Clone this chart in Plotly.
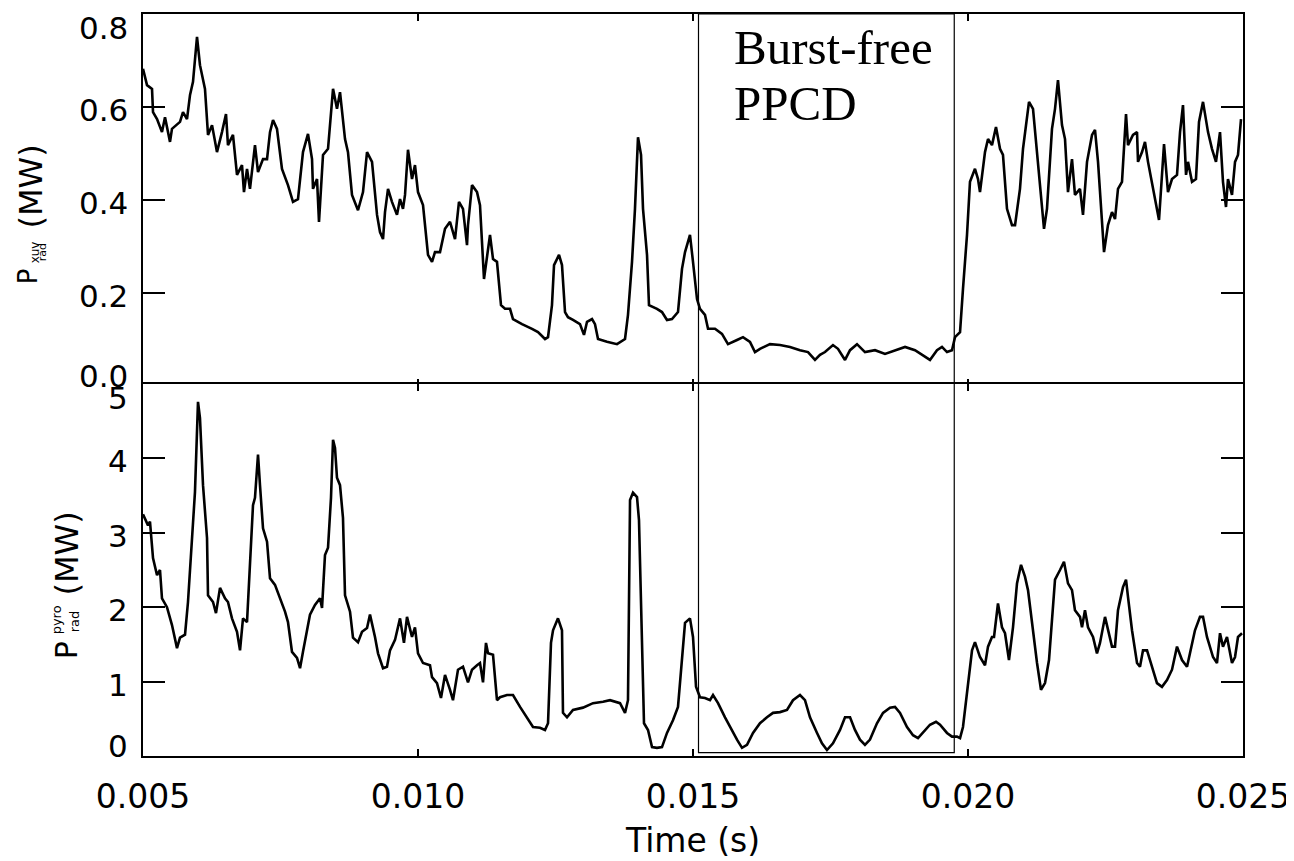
import numpy as np
import plotly.graph_objects as go

# --- Cadre (px) --------------------------------------------------------------
# La page HTML ajoute une marge de 8 px au body : on la retire du cadre.
OFF = 8
W, H = 1294 - OFF, 861 - OFF
L, R, T, B = 143 - OFF, 51, 12 - OFF, 105
PW, PH = W - L - R, H - T - B

# --- Données ------------------------------------------------------------------
# Panneau du haut : P_rad^xuv (MW), temps en ms
T_XUV_MS = [
    5.000, 5.073, 5.164, 5.182, 5.255, 5.345, 5.400, 5.491, 5.527, 5.673,
    5.727, 5.800, 5.855, 5.909, 5.982, 6.036, 6.127, 6.182, 6.255, 6.345,
    6.436, 6.509, 6.545, 6.636, 6.709, 6.800, 6.836, 6.891, 6.945, 7.036,
    7.091, 7.182, 7.255, 7.309, 7.364, 7.436, 7.527, 7.636, 7.727, 7.818,
    7.909, 8.000, 8.073, 8.091, 8.164, 8.200, 8.273, 8.364, 8.455, 8.527,
    8.582, 8.673, 8.727, 8.800, 8.909, 9.000, 9.073, 9.164, 9.255, 9.309,
    9.364, 9.400, 9.455, 9.527, 9.618, 9.673, 9.727, 9.764, 9.818, 9.891,
    9.945, 10.000, 10.091, 10.182, 10.255, 10.309, 10.400, 10.491, 10.582, 10.673,
    10.745, 10.818, 10.891, 10.909, 10.982, 11.073, 11.127, 11.182, 11.200, 11.309,
    11.364, 11.436, 11.509, 11.582, 11.673, 11.727, 11.891, 12.073, 12.182, 12.309,
    12.364, 12.436, 12.473, 12.564, 12.618, 12.673, 12.727, 12.818, 12.945, 13.018,
    13.073, 13.164, 13.218, 13.273, 13.436, 13.618, 13.764, 13.818, 13.891, 13.945,
    14.000, 14.055, 14.091, 14.164, 14.200, 14.345, 14.436, 14.527, 14.618, 14.727,
    14.800, 14.855, 14.945, 15.000, 15.073, 15.127, 15.218, 15.273, 15.400, 15.527,
    15.636, 15.800, 15.909, 16.036, 16.127, 16.218, 16.400, 16.582, 16.764, 16.945,
    17.091, 17.218, 17.309, 17.400, 17.545, 17.636, 17.764, 17.855, 17.982, 18.127,
    18.309, 18.491, 18.673, 18.855, 19.036, 19.164, 19.309, 19.436, 19.527, 19.618,
    19.709, 19.764, 19.855, 19.909, 19.982, 20.036, 20.127, 20.182, 20.218, 20.309,
    20.364, 20.436, 20.509, 20.582, 20.636, 20.709, 20.800, 20.855, 20.945, 21.000,
    21.109, 21.182, 21.255, 21.345, 21.382, 21.436, 21.527, 21.582, 21.636, 21.709,
    21.764, 21.818, 21.891, 21.945, 22.036, 22.091, 22.164, 22.255, 22.309, 22.364,
    22.436, 22.473, 22.545, 22.618, 22.673, 22.727, 22.800, 22.873, 22.909, 23.000,
    23.073, 23.091, 23.164, 23.218, 23.273, 23.364, 23.473, 23.564, 23.636, 23.709,
    23.800, 23.855, 23.909, 23.964, 24.000, 24.073, 24.145, 24.200, 24.273, 24.364,
    24.436, 24.509, 24.582, 24.636, 24.691, 24.727, 24.800, 24.855, 24.909, 24.964,
]
P_XUV = [
    0.682, 0.647, 0.639, 0.589, 0.574, 0.546, 0.578, 0.525, 0.553, 0.568,
    0.589, 0.574, 0.626, 0.654, 0.751, 0.690, 0.639, 0.540, 0.561, 0.503,
    0.546, 0.585, 0.518, 0.540, 0.454, 0.475, 0.417, 0.467, 0.424, 0.518,
    0.460, 0.488, 0.488, 0.546, 0.572, 0.553, 0.467, 0.432, 0.396, 0.402,
    0.503, 0.542, 0.488, 0.424, 0.445, 0.353, 0.497, 0.510, 0.639, 0.596,
    0.632, 0.531, 0.503, 0.411, 0.378, 0.417, 0.503, 0.482, 0.368, 0.331,
    0.316, 0.374, 0.424, 0.396, 0.368, 0.402, 0.381, 0.411, 0.508, 0.445,
    0.475, 0.417, 0.389, 0.282, 0.267, 0.288, 0.288, 0.338, 0.353, 0.316,
    0.396, 0.381, 0.303, 0.346, 0.432, 0.417, 0.389, 0.273, 0.230, 0.325,
    0.273, 0.267, 0.174, 0.166, 0.166, 0.144, 0.133, 0.123, 0.116, 0.101,
    0.105, 0.174, 0.260, 0.282, 0.260, 0.159, 0.148, 0.142, 0.133, 0.110,
    0.138, 0.144, 0.133, 0.101, 0.095, 0.090, 0.101, 0.153, 0.267, 0.381,
    0.535, 0.497, 0.381, 0.282, 0.174, 0.166, 0.159, 0.142, 0.144, 0.159,
    0.252, 0.288, 0.325, 0.267, 0.187, 0.166, 0.153, 0.123, 0.123, 0.112,
    0.090, 0.099, 0.105, 0.095, 0.073, 0.080, 0.090, 0.088, 0.084, 0.077,
    0.073, 0.056, 0.067, 0.073, 0.088, 0.080, 0.056, 0.077, 0.090, 0.073,
    0.077, 0.069, 0.077, 0.084, 0.077, 0.067, 0.056, 0.077, 0.084, 0.073,
    0.077, 0.105, 0.116, 0.209, 0.325, 0.439, 0.467, 0.445, 0.417, 0.503,
    0.531, 0.518, 0.557, 0.510, 0.497, 0.381, 0.346, 0.346, 0.424, 0.510,
    0.611, 0.596, 0.503, 0.374, 0.338, 0.381, 0.553, 0.596, 0.658, 0.561,
    0.531, 0.417, 0.488, 0.411, 0.424, 0.368, 0.482, 0.540, 0.551, 0.482,
    0.353, 0.288, 0.346, 0.374, 0.359, 0.424, 0.439, 0.585, 0.518, 0.540,
    0.546, 0.482, 0.503, 0.525, 0.482, 0.424, 0.357, 0.520, 0.417, 0.445,
    0.454, 0.546, 0.604, 0.454, 0.482, 0.439, 0.445, 0.568, 0.611, 0.546,
    0.510, 0.482, 0.546, 0.439, 0.385, 0.445, 0.411, 0.482, 0.497, 0.574,
]

# Panneau du bas : P_rad^pyro (MW), temps en ms
T_PYRO_MS = [
    5.000, 5.091, 5.127, 5.182, 5.255, 5.309, 5.345, 5.436, 5.527, 5.618,
    5.673, 5.764, 5.818, 5.891, 5.945, 6.000, 6.036, 6.091, 6.164, 6.182,
    6.273, 6.327, 6.400, 6.491, 6.545, 6.618, 6.709, 6.764, 6.818, 6.891,
    6.945, 7.000, 7.036, 7.091, 7.127, 7.182, 7.255, 7.309, 7.400, 7.491,
    7.582, 7.636, 7.709, 7.800, 7.855, 7.909, 7.982, 8.036, 8.127, 8.218,
    8.255, 8.309, 8.364, 8.418, 8.455, 8.491, 8.527, 8.582, 8.636, 8.673,
    8.764, 8.818, 8.909, 8.982, 9.073, 9.127, 9.218, 9.273, 9.364, 9.436,
    9.491, 9.582, 9.673, 9.745, 9.800, 9.891, 9.945, 10.000, 10.091, 10.218,
    10.255, 10.345, 10.418, 10.491, 10.582, 10.636, 10.727, 10.818, 10.909, 10.982,
    11.073, 11.127, 11.182, 11.236, 11.273, 11.364, 11.436, 11.491, 11.618, 11.727,
    11.855, 11.982, 12.091, 12.218, 12.309, 12.364, 12.418, 12.455, 12.545, 12.618,
    12.636, 12.709, 12.818, 13.000, 13.182, 13.364, 13.491, 13.673, 13.764, 13.818,
    13.855, 13.909, 13.982, 14.018, 14.073, 14.109, 14.182, 14.255, 14.345, 14.436,
    14.527, 14.636, 14.727, 14.800, 14.855, 14.945, 15.000, 15.055, 15.127, 15.218,
    15.309, 15.364, 15.455, 15.582, 15.673, 15.800, 15.891, 15.982, 16.091, 16.218,
    16.345, 16.455, 16.582, 16.709, 16.818, 16.945, 17.036, 17.127, 17.255, 17.345,
    17.436, 17.545, 17.673, 17.764, 17.855, 17.945, 18.036, 18.127, 18.218, 18.345,
    18.455, 18.582, 18.673, 18.764, 18.891, 19.000, 19.091, 19.182, 19.309, 19.418,
    19.491, 19.618, 19.709, 19.800, 19.855, 19.909, 19.982, 20.073, 20.127, 20.218,
    20.309, 20.364, 20.436, 20.473, 20.545, 20.618, 20.673, 20.745, 20.818, 20.891,
    20.964, 21.036, 21.091, 21.164, 21.255, 21.327, 21.400, 21.473, 21.527, 21.582,
    21.673, 21.745, 21.818, 21.891, 21.945, 22.036, 22.073, 22.127, 22.182, 22.273,
    22.345, 22.400, 22.491, 22.545, 22.618, 22.673, 22.727, 22.818, 22.873, 22.909,
    22.982, 23.073, 23.127, 23.182, 23.255, 23.309, 23.364, 23.436, 23.527, 23.618,
    23.709, 23.800, 23.891, 23.982, 24.036, 24.127, 24.218, 24.273, 24.345, 24.400,
    24.455, 24.527, 24.582, 24.636, 24.709, 24.800, 24.855, 24.909, 24.982,
]
P_PYRO = [
    3.25, 3.10, 3.15, 2.66, 2.43, 2.50, 2.12, 2.00, 1.76, 1.45,
    1.59, 1.63, 2.07, 2.88, 3.55, 4.76, 4.54, 3.64, 2.93, 2.16,
    2.07, 1.92, 2.26, 2.12, 2.07, 1.85, 1.67, 1.42, 1.85, 1.80,
    2.66, 3.37, 3.47, 4.05, 3.64, 3.06, 2.88, 2.39, 2.30, 2.12,
    1.94, 1.80, 1.40, 1.32, 1.18, 1.40, 1.67, 1.90, 2.03, 2.12,
    1.99, 2.70, 2.80, 3.47, 4.25, 4.14, 3.74, 3.64, 3.20, 2.16,
    1.94, 1.59, 1.53, 1.67, 1.72, 1.90, 1.60, 1.38, 1.18, 1.20,
    1.42, 1.56, 1.85, 1.52, 1.87, 1.60, 1.73, 1.38, 1.25, 1.22,
    1.06, 0.98, 0.78, 1.09, 0.89, 0.75, 1.16, 1.20, 0.99, 1.16,
    1.22, 1.25, 0.99, 1.52, 1.38, 1.36, 0.75, 0.79, 0.82, 0.82,
    0.66, 0.52, 0.39, 0.38, 0.35, 0.44, 1.52, 1.69, 1.85, 1.69,
    0.58, 0.52, 0.62, 0.65, 0.71, 0.73, 0.75, 0.71, 0.58, 0.75,
    3.44, 3.54, 3.48, 3.17, 1.69, 0.44, 0.35, 0.12, 0.11, 0.12,
    0.31, 0.48, 0.66, 1.38, 1.79, 1.85, 1.60, 0.93, 0.79, 0.78,
    0.75, 0.82, 0.71, 0.52, 0.39, 0.22, 0.11, 0.15, 0.31, 0.44,
    0.52, 0.58, 0.59, 0.62, 0.75, 0.82, 0.75, 0.52, 0.31, 0.17,
    0.08, 0.17, 0.35, 0.52, 0.52, 0.35, 0.22, 0.15, 0.22, 0.44,
    0.58, 0.65, 0.66, 0.58, 0.39, 0.28, 0.24, 0.31, 0.42, 0.46,
    0.42, 0.31, 0.26, 0.26, 0.24, 0.39, 0.85, 1.42, 1.53, 1.33,
    1.22, 1.47, 1.60, 1.60, 2.05, 1.73, 1.65, 1.29, 1.73, 2.32,
    2.57, 2.41, 2.23, 1.79, 1.25, 0.89, 0.98, 1.29, 1.79, 2.37,
    2.50, 2.61, 2.32, 2.23, 1.96, 1.87, 1.73, 1.96, 1.73, 1.60,
    1.38, 1.52, 1.87, 1.69, 1.47, 1.47, 1.96, 2.27, 2.37, 2.14,
    1.69, 1.25, 1.20, 1.42, 1.42, 1.29, 1.16, 0.98, 0.93, 1.02,
    1.16, 1.47, 1.29, 1.20, 1.38, 1.69, 1.87, 1.87, 1.60, 1.47,
    1.33, 1.25, 1.65, 1.47, 1.60, 1.25, 1.33, 1.60, 1.65,
]

# Fenêtre « Burst-free PPCD » (s) et bas du cadre (MW, panneau du bas)
PPCD_START, PPCD_END = 0.01510, 0.01975
PPCD_BOTTOM = 0.045

X_TICKS = [0.005, 0.010, 0.015, 0.020, 0.025]
X_LABELS = ["0.005", "0.010", "0.015", "0.020", "0.025"]
XUV_TICKS = [0.0, 0.2, 0.4, 0.6, 0.8]
XUV_LABELS = ["0.0", "0.2", "0.4", "0.6", "0.8"]
PYRO_TICKS = [0, 1, 2, 3, 4, 5]
PYRO_LABELS = ["0", "1", "2", "3", "4", "5"]

SANS = "DejaVu Sans"
SERIF = "Liberation Serif"


# positions données en px de l'image de référence -> coordonnées papier
def px_x(px):
    return (px - OFF - L) / PW


def px_y(py):
    return (H + OFF - B - py) / PH


t_xuv = np.array(T_XUV_MS) / 1000.0
t_pyro = np.array(T_PYRO_MS) / 1000.0

fig = go.Figure()
fig.add_trace(go.Scatter(x=t_xuv, y=P_XUV, mode="lines", xaxis="x", yaxis="y",
                         line=dict(color="black", width=2.6), showlegend=False))
fig.add_trace(go.Scatter(x=t_pyro, y=P_PYRO, mode="lines", xaxis="x2", yaxis="y2",
                         line=dict(color="black", width=2.6), showlegend=False))

frame = dict(showline=True, linecolor="black", linewidth=2, mirror="ticks",
             ticks="inside", showgrid=False, zeroline=False)
xcommon = dict(frame, range=[0.005, 0.025], tickvals=X_TICKS, ticktext=X_LABELS,
               ticklen=7, tickwidth=1.5, tickcolor="black")
ycommon = dict(frame, ticklen=22, tickwidth=2, tickcolor="black", showticklabels=False)

half = 1.0 / PH   # les deux cadres partagent la même ligne médiane
fig.update_layout(
    width=W, height=H,
    margin=dict(l=L, r=R, t=T, b=B),
    paper_bgcolor="white", plot_bgcolor="white",
    xaxis=dict(xcommon, domain=[0, 1], anchor="y", showticklabels=False, matches="x2"),
    yaxis=dict(ycommon, domain=[0.5 - half, 1], anchor="x", range=[0, 0.8],
               tickvals=XUV_TICKS),
    xaxis2=dict(xcommon, domain=[0, 1], anchor="y2", ticklabelstandoff=10,
                tickfont=dict(family=SANS, size=33, color="black")),
    yaxis2=dict(ycommon, domain=[0, 0.5 + half], anchor="x2", range=[0, 5],
                tickvals=PYRO_TICKS),
    hovermode=False,
)

# Cadre de la phase sans bursts
fig.add_shape(type="rect", xref="x", yref="paper",
              x0=PPCD_START, x1=PPCD_END, y0=(0.5 + half) * PPCD_BOTTOM / 5, y1=1,
              line=dict(color="black", width=1.2), fillcolor="rgba(0,0,0,0)")


# Étiquettes des graduations y (décalées comme dans IDL aux extrémités)
def ylabels(ticks, labels, yref):
    for i, (v, lab) in enumerate(zip(ticks, labels)):
        shift = -3
        if i == 0:
            shift = 10
        elif i == len(ticks) - 1:
            shift = -14
        fig.add_annotation(x=0, xref="paper", xanchor="right", xshift=-13,
                           y=v, yref=yref, yanchor="middle", yshift=shift,
                           text=lab, showarrow=False,
                           font=dict(family=SANS, size=31, color="black"))


ylabels(XUV_TICKS, XUV_LABELS, "y")
ylabels(PYRO_TICKS, PYRO_LABELS, "y2")


def label(text, px, py, size, angle=0, family=SANS, xanchor="center"):
    fig.add_annotation(x=px_x(px), y=px_y(py), xref="paper", yref="paper",
                       xanchor=xanchor, yanchor="middle", text=text, showarrow=False,
                       textangle=angle, font=dict(family=family, size=size, color="black"))


# Titres des axes y : P avec exposant / indice empilés
label("P", 28, 275, 26, -90)
label("xuv", 35, 251, 12, -90)
label("rad", 42, 251, 11, -90)
label("(MW)", 31, 185, 32, -90)

label("P", 66, 650, 30, -90)
label("pyro", 56, 620, 13, -90)
label("rad", 74, 621, 13, -90)
label("(MW)", 67, 553, 32, -90)

label("Time (s)", 692, 841, 33)

label("Burst-free", 732, 46, 49, family=SERIF, xanchor="left")
label("PPCD", 732, 102, 49, family=SERIF, xanchor="left")

fig.write_html("out.html")
